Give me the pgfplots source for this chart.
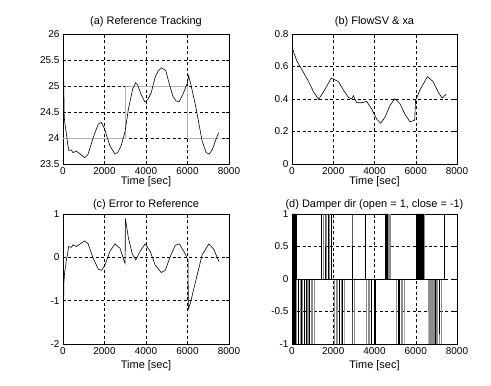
\documentclass[border=0pt]{standalone}
\usepackage{fontspec}
\setmainfont{Liberation Sans}
\usepackage{pgfplots}
\pgfplotsset{compat=1.18}
\pgfplotsset{
  myax/.style={
    scale only axis, anchor=south west,
    xmin=0, xmax=8000, xtick={0,2000,4000,6000,8000},
    grid=major,
    major grid style={black, dash pattern=on 3pt off 2.5pt, line width=0.5pt},
    axis line style={line width=0.6pt},
    tick align=inside, major tick length=3pt,
    tick style={black, line width=0.5pt},
    tick label style={font=\fontsize{10}{11}\selectfont},
    label style={font=\fontsize{11}{12}\selectfont},
    title style={font=\fontsize{11}{12}\selectfont},
    /pgf/number format/assume math mode=true,
    /pgf/number format/set thousands separator={},
    scaled x ticks=false, scaled y ticks=false,
    xlabel={Time [sec]},
  },
  toprow/.style={every axis title shift=4pt, xlabel style={yshift=5pt}},
  botrow/.style={every axis title shift=1pt, xlabel style={yshift=1pt}},
}
\begin{document}
\begin{tikzpicture}
\useasboundingbox (0,0) rectangle (491bp,386bp);

% (a)
\begin{axis}[myax, toprow, at={(63bp,222bp)}, width=166bp, height=130bp,
  ymin=23.5, ymax=26, ytick={23.5,24,24.5,25,25.5,26},
  title={(a) Reference Tracking}]
\addplot[black!30, line width=0.9pt] coordinates {
 (0,24) (3000,24) (3000,25) (6000,25) (6000,24) (7500,24)};
\addplot[black, line width=0.6pt] coordinates {
 (0,26) (30,25.2) (60,24.4) (100,24.25) (160,24.1) (220,23.9) (280,23.76)
 (400,23.77) (480,23.72) (640,23.75) (800,23.7) (1050,23.62) (1200,23.68)
 (1450,24.0) (1700,24.27) (1850,24.3) (2000,24.18) (2250,23.86) (2500,23.69)
 (2650,23.73) (2800,23.85) (2990,24.12) (3150,24.55) (3350,24.93) (3500,25.06)
 (3600,25.02) (3750,24.85) (3950,24.69) (4100,24.75) (4250,24.87) (4450,25.18)
 (4600,25.3) (4750,25.35) (4950,25.3) (5150,25.0) (5300,24.8) (5450,24.71)
 (5600,24.7) (5800,24.86) (6000,25.06) (6050,25.2) (6150,25.05) (6400,24.6)
 (6700,23.95) (6900,23.72) (7050,23.69) (7200,23.78) (7350,23.95) (7500,24.1)};
\end{axis}

% (b)
\begin{axis}[myax, toprow, at={(292bp,222bp)}, width=165bp, height=130bp,
  ymin=0, ymax=0.8, ytick={0,0.2,0.4,0.6,0.8},
  title={(b) FlowSV \& xa}]
\addplot[black, line width=0.6pt] coordinates {
 (0,0.72) (32,0.706) (241,0.632) (483,0.58) (805,0.507) (1046,0.444) (1288,0.398)
 (1529,0.444) (1900,0.528) (2050,0.52) (2254,0.507) (2495,0.454) (2736,0.41)
 (2897,0.40) (2978,0.42) (3139,0.377) (3380,0.377) (3622,0.385) (3863,0.339)
 (4105,0.276) (4298,0.251) (4507,0.287) (4748,0.36) (4990,0.402) (5231,0.371)
 (5473,0.308) (5714,0.26) (5875,0.266) (5950,0.27) (5990,0.39) (6197,0.454)
 (6567,0.538) (6841,0.507) (7082,0.444) (7276,0.406) (7485,0.43)};
\end{axis}

% (c)
\begin{axis}[myax, botrow, at={(63bp,42bp)}, width=166bp, height=130bp,
  ymin=-2, ymax=1, ytick={-2,-1,0,1},
  title={(c) Error to Reference}]
\addplot[black, line width=0.6pt] coordinates {
 (0,-2) (20,-1.5) (40,-0.6) (80,-0.34) (130,-0.2) (160,-0.05) (200,0.02)
 (275,0.25) (404,0.23) (485,0.29) (646,0.25) (889,0.33) (1050,0.38) (1212,0.31)
 (1454,-0.02) (1697,-0.27) (1858,-0.3) (2020,-0.18) (2262,0.14) (2505,0.31)
 (2747,0.21) (2957,-0.1) (2995,-0.14) (3005,0.9) (3151,0.45) (3345,0.07)
 (3507,-0.06) (3717,0.14) (3959,0.31) (4202,0.14) (4444,-0.18) (4735,-0.35)
 (4929,-0.3) (5171,0.02) (5414,0.28) (5608,0.31) (5818,0.14) (6028,-0.06)
 (6040,-1.2) (6141,-1.05) (6383,-0.57) (6706,0.06) (7030,0.31) (7272,0.18)
 (7515,-0.1)};
\end{axis}

% (d)
\begin{axis}[myax, botrow, at={(292bp,42bp)}, width=165bp, height=130bp,
  ymin=-1, ymax=1, ytick={-1,-0.5,0,0.5,1},
  title={(d) Damper dir (open = 1, close = -1)}]
\addplot[black!45, line width=0.6pt] coordinates {
 (230,0) (230,-1) (230,0) (400,0) (400,-1) (400,0) (520,0) (520,-1) (520,0)
 (750,0) (750,-1) (750,0) (800,0) (800,-1) (800,0) (950,0) (950,-1) (950,0)
 (1000,0) (1000,-1) (1000,0) (1099,0) (1099,-1) (1099,0)
 (1500,0) (1500,1) (1500,0) (1680,0) (1680,1) (1680,0) (1820,0) (1820,1) (1820,0)
 (2068,0) (2068,-1) (2068,0) (2150,0) (2150,-1) (2150,0) (2200,0) (2200,-1) (2200,0)
 (2380,0) (2380,-1) (2380,0) (2521,0) (2521,-1) (2521,0) (3038,0) (3038,-1) (3038,0)
 (3604,0) (3604,-1) (3604,0) (3700,0) (3700,-1) (3700,0) (3760,0) (3760,-1) (3760,0)
 (4650,0) (4650,1) (4650,0) (4700,0) (4700,1) (4700,0) (4750,0) (4750,1) (4750,0)
 (4785,0) (4785,1) (4785,0)
 (5058,0) (5058,-1) (5058,0) (5300,0) (5300,-1) (5300,0) (5350,0) (5350,-1) (5350,0)
 (5430,0) (5430,-1) (5430,0) (6416,0) (6416,1) (6416,0)
 (6594,0) (6594,-1) (6594,0) (6650,0) (6650,-1) (6650,0) (6700,0) (6700,-1) (6700,0)
 (6750,0) (6750,-1) (6750,0) (6800,0) (6800,-1) (6800,0) (6850,0) (6850,-1) (6850,0)
 (6900,0) (6900,-1) (6900,0) (7000,0) (7000,-1) (7000,0) (7050,0) (7050,-1) (7050,0)
 (7150,0) (7150,-1) (7150,0) (7240,0) (7240,-1) (7240,0) (7380,0) (7380,1) (7380,0)};
\addplot[black, line width=0.6pt] coordinates {
 (0,0) (10,0) (10,1) (10,0) (20,0) (20,-1) (20,0) (35,0) (35,1) (35,0)
 (50,0) (50,-1) (50,0) (60,0) (60,1) (60,0) (80,0) (80,-1) (80,0)
 (85,0) (85,1) (85,0) (110,0) (110,1) (110,-1) (110,0) (135,0) (135,1) (135,0)
 (140,0) (140,-1) (140,0) (160,0) (160,1) (160,-1) (160,0) (185,0) (185,1) (185,0)
 (210,0) (210,1) (210,0) (300,0) (300,-1) (300,0) (450,0) (450,-1) (450,0)
 (600,0) (600,-1) (600,0) (680,0) (680,-1) (680,0) (850,0) (850,-1) (850,0)
 (1422,0) (1422,1) (1422,0) (1600,0) (1600,1) (1600,0) (1750,0) (1750,1) (1750,0)
 (1907,0) (1907,1) (1907,0) (2300,0) (2300,-1) (2300,0) (2450,0) (2450,-1) (2450,0)
 (2909,0) (2909,1) (2909,-1) (2909,0) (3555,0) (3555,1) (3555,0)
 (3850,0) (3850,-1) (3850,0) (3980,0) (3980,-1) (3980,0) (4020,0) (4020,-1) (4020,0)
 (4525,0) (4525,1) (4525,0) (4560,0) (4560,1) (4560,0) (4600,0) (4600,1) (4600,0)
 (5150,0) (5150,-1) (5150,0) (5200,0) (5200,-1) (5200,0)
 (6030,0) (6030,1) (6030,0) (6060,0) (6060,1) (6060,0) (6090,0) (6090,1) (6090,0)
 (6120,0) (6120,1) (6120,0) (6150,0) (6150,1) (6150,0) (6180,0) (6180,1) (6180,0)
 (6210,0) (6210,1) (6210,0) (6240,0) (6240,1) (6240,0) (6270,0) (6270,1) (6270,0)
 (6300,0) (6300,1) (6300,0) (6330,0) (6330,1) (6330,0) (6350,0) (6350,1) (6350,0)
 (6950,0) (6950,-1) (6950,0) (7120,0) (7120,-0.85) (7120,0) (7402,0) (7402,1) (7402,0)
 (7500,0)};
\end{axis}
\end{tikzpicture}
\end{document}
